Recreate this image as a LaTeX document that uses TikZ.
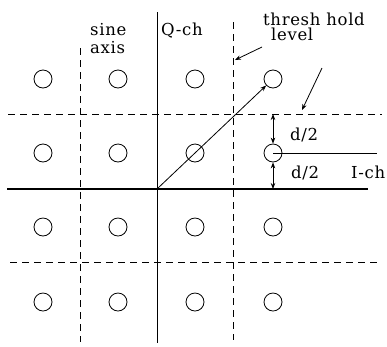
\documentclass[tikz,border=0pt]{standalone}
\usepackage{fontspec}
\setmainfont{DejaVu Serif}[LetterSpace=4]
\usetikzlibrary{arrows.meta}
\begin{document}
\begin{tikzpicture}[x=1pt,y=-1pt,
  pt/.style={circle,draw,line width=0.8pt,minimum size=18pt,inner sep=0pt},
  dashline/.style={line width=0.8pt,dash pattern=on 7pt off 5pt},
  axisline/.style={line width=0.9pt},
  iline/.style={line width=1.8pt},
  tip/.style={-{Stealth[length=6pt,width=4.5pt]},line width=0.8pt},
  dtip/.style={{Stealth[length=6pt,width=4.5pt]}-{Stealth[length=6pt,width=4.5pt]},line width=0.8pt},
  lbl/.style={anchor=base west,inner sep=0pt,font=\fontsize{16.5}{19}\selectfont}]
\useasboundingbox (0,0) rectangle (387,346);
% constellation points
\foreach \r/\y in {1/79,2/153,3/227,4/302}{
  \foreach \c/\x in {1/43,2/118,3/195,4/273}{
    \node[pt] (c\r\c) at (\x,\y) {};
  }
}
% grid lines
\coordinate (il) at (7,189);   \coordinate (ir) at (368,189);
\coordinate (qt) at (157,12);  \coordinate (qb) at (157,343);
\coordinate (v1t) at (80,48);  \coordinate (v1b) at (80,342);
\coordinate (v2t) at (233,22); \coordinate (v2b) at (233,340);
\coordinate (h1l) at (8,114);  \coordinate (h1r) at (382,114);
\coordinate (h2l) at (10,262); \coordinate (h2r) at (377,262);
\draw[iline] (il) -- (ir);
\draw[axisline] (qt) -- (qb);
\draw[dashline] (v1t) -- (v1b);
\draw[dashline] (v2t) -- (v2b);
\draw[dashline] (h1l) -- (h1r);
\draw[dashline] (h2l) -- (h2r);
% signal vector
\coordinate (O) at (157,189);
\draw[tip] (O) -- (c14);
% d/2 markers
\coordinate (dt) at (273,114);
\coordinate (db) at (273,189);
\coordinate (dr) at (377,153);
\draw[line width=0.8pt] (c24.center) -- (dr);
\draw[dtip] (dt) -- (c24.north);
\draw[dtip] (c24.south) -- (db);
% threshold pointer arrows
\coordinate (a1s) at (262,47); \coordinate (a1e) at (235,60);
\coordinate (a2s) at (322,68); \coordinate (a2e) at (302,110);
\draw[tip] (a1s) -- (a1e);
\draw[tip] (a2s) -- (a2e);
% labels
\node[lbl] (sine) at (90,35) {sine};
\node[lbl] (axis) at (90,53) {axis};
\node[lbl] (qch) at (161,35) {Q-ch};
\node[lbl] (thr) at (263,25) {thresh hold};
\node[lbl] (lev) at (271,40) {level};
\node[lbl] (d1) at (290,140) {d/2};
\node[lbl] (d2) at (291,178) {d/2};
\node[lbl] (ich) at (351,178) {I-ch};
\end{tikzpicture}
\end{document}
